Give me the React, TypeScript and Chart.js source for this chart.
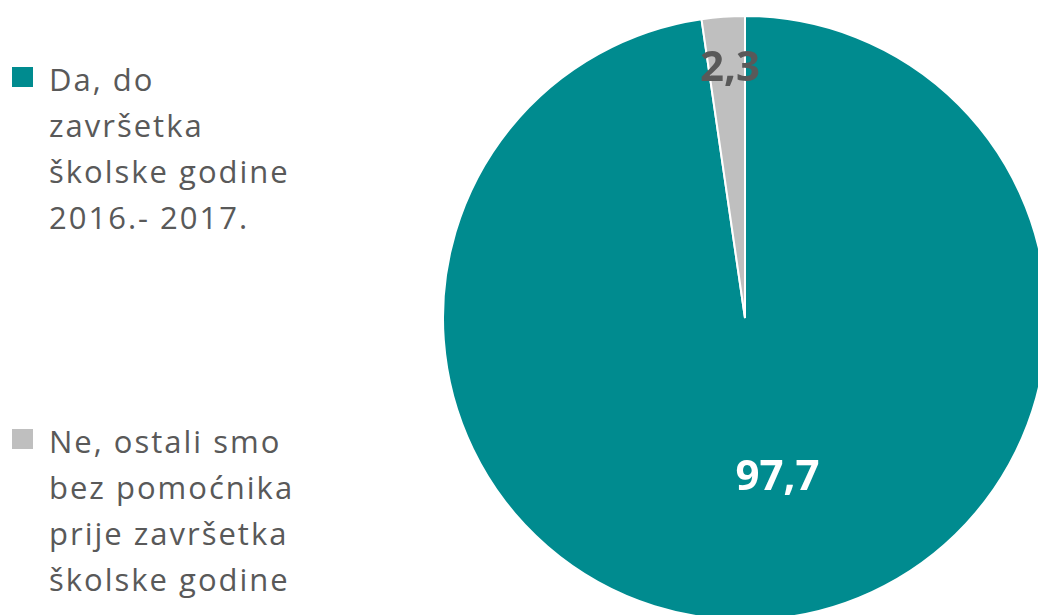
import React, { useEffect, useRef } from "react";
import { Chart, registerables } from "chart.js";

Chart.register(...registerables);

const categories = [
  "Da, do\nzavršetka\nškolske godine\n2016.- 2017.",
  "Ne, ostali smo\nbez pomoćnika\nprije završetka\nškolske godine",
];
const values = [97.7, 2.3];
const valueLabels = ["97,7", "2,3"];
const sliceColors = ["#008B8F", "#BFBFBF"];
const labelColors = ["#FFFFFF", "#595959"];

const FONT = "'Open Sans', 'Liberation Sans', sans-serif";

const labelPlugin = {
  id: "sliceLabels",
  afterDatasetsDraw(chart: any) {
    const ctx = chart.ctx;
    const meta = chart.getDatasetMeta(0);
    const fracs = [0.53, 0.825];
    const dxs = [21, 3];
    ctx.save();
    ctx.font = `bold 42px ${FONT}`;
    ctx.textAlign = "center";
    ctx.textBaseline = "middle";
    meta.data.forEach((arc: any, i: number) => {
      const p = arc.getProps(["x", "y", "startAngle", "endAngle", "outerRadius"], true);
      const mid = (p.startAngle + p.endAngle) / 2;
      const r = p.outerRadius * fracs[i];
      const x = p.x + Math.cos(mid) * r + dxs[i];
      const y = p.y + Math.sin(mid) * r;
      ctx.fillStyle = labelColors[i];
      ctx.fillText(valueLabels[i], x, y);
    });
    ctx.restore();
  },
};

export default function App() {
  const ref = useRef<HTMLCanvasElement | null>(null);
  useEffect(() => {
    if (!ref.current) return;
    const chart = new Chart(ref.current, {
      type: "pie",
      data: {
        labels: categories,
        datasets: [
          {
            data: values,
            backgroundColor: sliceColors,
            borderColor: "#FFFFFF",
            borderWidth: 2,
          },
        ],
      },
      options: {
        responsive: false,
        animation: false,
        layout: { padding: 0 },
        plugins: {
          legend: { display: false },
          tooltip: { enabled: false },
        },
      },
      plugins: [labelPlugin],
    });
    return () => chart.destroy();
  }, []);

  const itemTops = [56, 418];

  return (
    <div
      style={{
        position: "absolute",
        left: 0,
        top: 0,
        width: 1038,
        height: 615,
        overflow: "hidden",
        background: "#FFFFFF",
      }}
    >
      <canvas
        ref={ref}
        width={606}
        height={606}
        style={{ position: "absolute", left: 442, top: 15, width: 606, height: 606 }}
      />
      {categories.map((c, i) => (
        <div
          key={i}
          style={{
            position: "absolute",
            left: 12,
            top: itemTops[i],
            fontFamily: FONT,
            fontSize: 31,
            lineHeight: "46px",
            letterSpacing: "2px",
            color: "#595959",
          }}
        >
          <div
            style={{
              position: "absolute",
              left: 0,
              top: 11,
              width: 21,
              height: 20,
              background: sliceColors[i],
            }}
          />
          <div style={{ marginLeft: 37, whiteSpace: "pre-line" }}>{c}</div>
        </div>
      ))}
    </div>
  );
}
